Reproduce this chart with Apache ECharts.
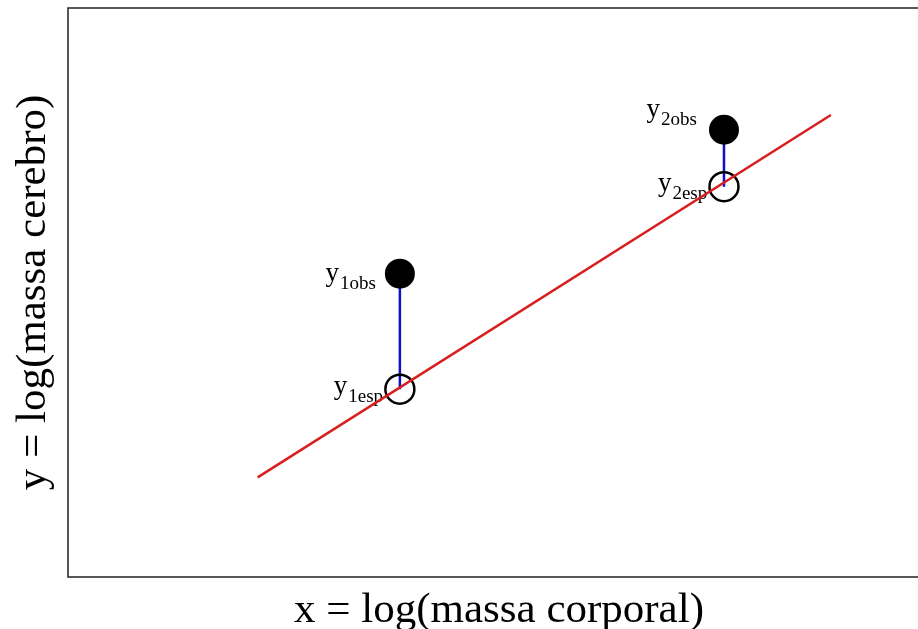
<!DOCTYPE html>
<html>
<head>
<meta charset="utf-8">
<script src="https://cdn.jsdelivr.net/npm/echarts@6/dist/echarts.min.js"></script>
<style>
  html, body { margin: 0; padding: 0; background: #fff; }
  #chart { width: 918px; height: 629px; }
</style>
</head>
<body>
<div id="chart"></div>
<script>
// Fitted regression line (log body mass vs log brain mass), endpoints
const lineX = [2.2, 8.85];
const lineY = [1.75, 8.12];

// Two example animals: x value, observed y and expected y on the line
const pointX = [3.85, 7.61];
const yObs = [5.33, 7.86];
const yEsp = [3.30, 6.86];
const obsSub = ['1obs', '2obs'];
const espSub = ['1esp', '2esp'];

const serif = '"Liberation Serif", "DejaVu Serif", serif';

const richStyle = {
  y: { fontFamily: serif, fontSize: 27, color: '#000', verticalAlign: 'bottom', lineHeight: 28 },
  s: { fontFamily: serif, fontSize: 19, color: '#000', verticalAlign: 'bottom', lineHeight: 20, padding: [0, 0, -6, 1] }
};

// per-label placement relative to its point
const obsOffset = [[-1, 0], [-4, -20]];
const espOffset = [[7, -3], [7, -3]];

function labelled(values, subs, offsets) {
  return values.map((v, i) => ({
    value: [pointX[i], v],
    label: {
      show: true,
      position: 'left',
      distance: 8,
      offset: offsets[i],
      formatter: '{y|y}{s|' + subs[i] + '}',
      rich: richStyle
    }
  }));
}

const residualSeries = pointX.map((x, i) => ({
  type: 'line',
  data: [[x, yObs[i]], [x, yEsp[i]]],
  symbol: 'none',
  lineStyle: { color: '#1010c8', width: 2.5 },
  z: 2
}));

const chart = echarts.init(document.getElementById('chart'), null, { renderer: 'canvas' });
chart.setOption({
  backgroundColor: '#fff',
  animation: false,
  grid: {
    left: 68, top: 8, right: -12, bottom: 52,
    outerBoundsMode: 'none',
    containLabel: false,
    show: true, borderColor: '#222', borderWidth: 1.5, backgroundColor: 'transparent'
  },
  xAxis: {
    type: 'value', min: 0, max: 10,
    name: 'x = log(massa corporal)',
    nameLocation: 'middle', nameGap: 12,
    nameTextStyle: { fontFamily: serif, fontSize: 43, color: '#000' },
    axisLine: { show: false }, axisTick: { show: false },
    axisLabel: { show: false }, splitLine: { show: false }
  },
  yAxis: {
    type: 'value', min: 0, max: 10,
    name: 'y = log(massa cerebro)',
    nameLocation: 'middle', nameGap: 13,
    nameTextStyle: { fontFamily: serif, fontSize: 43, color: '#000' },
    axisLine: { show: false }, axisTick: { show: false },
    axisLabel: { show: false }, splitLine: { show: false }
  },
  series: [
    ...residualSeries,
    {
      type: 'scatter',
      data: labelled(yEsp, espSub, espOffset),
      symbol: 'circle', symbolSize: 29,
      itemStyle: { color: 'rgba(255,255,255,0)', borderColor: '#000', borderWidth: 2.5, opacity: 1 },
      z: 3
    },
    {
      type: 'line',
      data: lineX.map((x, i) => [x, lineY[i]]),
      symbol: 'none',
      lineStyle: { color: '#d81e1e', width: 2.5 },
      z: 4
    },
    {
      type: 'scatter',
      data: labelled(yObs, obsSub, obsOffset),
      symbol: 'circle', symbolSize: 30,
      itemStyle: { color: '#000', opacity: 1 },
      z: 5
    }
  ]
});
</script>
</body>
</html>
